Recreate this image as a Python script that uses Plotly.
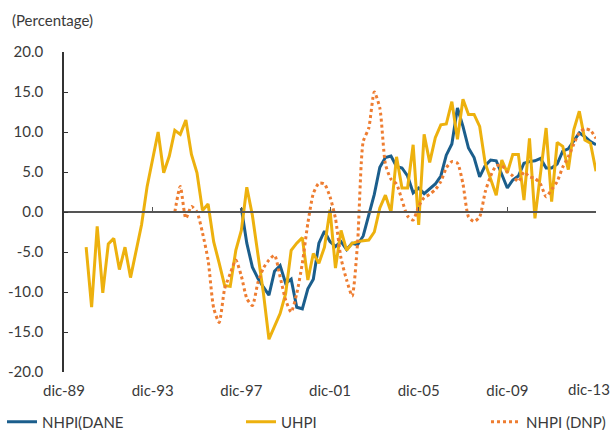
import plotly.graph_objects as go
import pandas as pd

# Quarterly periods, Dec-1989 .. Dec-2013 (97 quarters)
periods = [d for d in pd.date_range("1989-12-01", "2013-12-01", freq="MS") if d.month in (3, 6, 9, 12)]

tick_dates = ["1989-12-01", "1993-12-01", "1997-12-01", "2001-12-01",
              "2005-12-01", "2009-12-01", "2013-12-01"]
tick_labels = ["dic-89", "dic-93", "dic-97", "dic-01", "dic-05", "dic-09", "dic-13"]

N = None
# UHPI: quarters 4..96
uhpi = [N]*4 + [
    -4.4, -11.9, -1.8, -10.1, -4.0, -3.3, -7.2, -4.4, -8.2, -4.8,
    -1.6, 3.2, 6.6, 10.0, 4.9, 7.0, 10.2, 9.7, 11.5, 7.2,
    4.9, 0.2, 1.0, -3.7, -6.4, -9.2, -9.3, -4.8, -2.3, 3.1,
    -0.4, -5.2, -10.2, -15.9, -14.2, -12.7, -10.2, -4.8, -3.9, -3.2,
    -8.5, -5.2, -6.4, -4.4, 0.3, -7.0, -2.3, -4.8, -3.9, -3.7,
    -3.6, -3.5, -2.5, 0.5, 2.1, 0.0, 6.9, 3.0, 3.0, 8.4,
    -1.6, 9.7, 6.2, 9.3, 10.9, 11.0, 13.8, 9.1, 14.1, 12.2,
    12.2, 10.7, 6.1, 4.0, 2.1, 6.5, 4.9, 7.2, 7.2, 1.5,
    9.2, -0.8, 4.9, 10.5, 1.3, 8.7, 8.2, 5.3, 10.3, 12.6,
    9.0, 8.6, 5.1]

# NHPI (DANE): quarters 32..96
nhpi_dane = [N]*32 + [
    0.5, -3.9, -6.9, -8.3, -9.4, -10.4, -7.4, -6.7, -8.9, -8.4,
    -11.9, -12.1, -9.6, -8.4, -3.9, -2.4, -3.7, -4.3, -3.7, -4.7,
    -3.9, -4.1, -3.0, -0.5, 2.2, 5.6, 6.8, 7.0, 5.7, 5.5,
    4.5, 2.4, 3.0, 2.3, 2.9, 3.5, 4.5, 7.1, 8.5, 13.0,
    10.7, 8.0, 6.8, 4.4, 5.8, 6.5, 6.4, 4.8, 3.0, 4.0,
    4.5, 6.1, 6.3, 6.4, 6.7, 5.5, 5.5, 6.0, 7.6, 7.9,
    8.9, 9.9, 9.4, 8.8, 8.4]

# NHPI (DNP): quarters 20..96
nhpi_dnp = [N]*20 + [
    0.0, 3.2, -0.8, 0.7, 0.0, -2.6, -6.0, -12.0, -13.8, -9.6,
    -7.7, -6.0, -8.0, -10.8, -11.7, -8.8, -7.0, -6.0, -5.4, -8.1,
    -11.0, -12.5, -10.2, -6.4, -1.4, 2.3, 3.6, 3.5, 1.9, -0.8,
    -5.8, -8.5, -10.5, -3.8, 8.8, 10.5, 15.0, 13.0, 6.0, 4.1,
    3.5, 1.5, -0.5, -1.0, 0.7, 1.8, 2.2, 2.8, 3.8, 5.5,
    6.3, 6.1, 3.5, -0.6, -1.2, -0.6, 2.5, 4.5, 5.8, 5.8,
    5.0, 4.5, 3.8, 5.0, 4.4, 4.2, 3.5, 1.9, 2.8, 3.8,
    5.6, 6.9, 8.5, 9.9, 10.4, 10.2, 9.2]

y_ticks = [20, 15, 10, 5, 0, -5, -10, -15, -20]

BLUE = "#1B5E8C"
GOLD = "#EDB10E"
ORANGE = "#EE7D31"
FONT = "Lato"
TXT = "#3A3A3A"
FS = 15

L, R, T, B = 64, 18, 52, 58
PW = 614 - L - R
PH = 430 - T - B

def px_x(p):
    return (p - L) / PW

def px_y(p):
    return (430 - B - p) / PH

fig = go.Figure()
fig.add_trace(go.Scatter(x=periods, y=nhpi_dane, name="NHPI(DANE", mode="lines",
                         line=dict(color=BLUE, width=3), legend="legend"))
fig.add_trace(go.Scatter(x=periods, y=uhpi, name="UHPI", mode="lines",
                         line=dict(color=GOLD, width=3), legend="legend2"))
fig.add_trace(go.Scatter(x=periods, y=nhpi_dnp, name="NHPI (DNP)", mode="lines",
                         line=dict(color=ORANGE, width=3, dash="dot", shape="spline", smoothing=0.6),
                         legend="legend3"))

xr = ["1989-12-01", "2013-12-01"]
leg_common = dict(orientation="h", xanchor="left", yanchor="middle", y=px_y(422),
                  font=dict(family=FONT, size=FS, color=TXT), itemwidth=30,
                  bgcolor="rgba(0,0,0,0)", borderwidth=0)
fig.update_layout(
    width=614, height=430,
    margin=dict(l=L, r=R, t=T, b=B, autoexpand=False),
    paper_bgcolor="white", plot_bgcolor="white",
    font=dict(family=FONT, size=FS, color=TXT),
    showlegend=True,
    legend=dict(x=px_x(2), **leg_common),
    legend2=dict(x=px_x(241), **leg_common),
    legend3=dict(x=px_x(486), **leg_common),
    xaxis=dict(type="date", range=xr, tickvals=tick_dates,
               ticktext=tick_labels[:-1] + [""],
               showgrid=False, zeroline=False, showline=False, ticks="",
               ticklabelstandoff=8,
               tickfont=dict(family=FONT, size=FS, color=TXT)),
    xaxis2=dict(type="date", range=xr, overlaying="x", anchor="free", position=0.5,
                side="bottom", tickvals=tick_dates, showticklabels=False,
                showgrid=False, zeroline=False, showline=True, linecolor="#555555",
                linewidth=1.5, ticks="inside", ticklen=4, tickcolor="#555555"),
    yaxis=dict(range=[-20, 20], tickvals=y_ticks,
               ticktext=[f"{v:.1f}" for v in y_ticks],
               showgrid=False, zeroline=False, showline=True, linecolor="#333333",
               linewidth=1.5, ticks="inside", ticklen=4, tickcolor="#333333",
               ticklabelstandoff=16,
               tickfont=dict(family=FONT, size=FS, color=TXT)),
    annotations=[
        dict(text="(Percentage)", xref="paper", yref="paper",
             x=px_x(10), y=px_y(20), xanchor="left", yanchor="middle",
             showarrow=False, font=dict(family=FONT, size=FS, color=TXT)),
        dict(text=tick_labels[-1], xref="paper", yref="paper",
             x=1, xshift=16, y=px_y(389), xanchor="right", yanchor="middle",
             showarrow=False, font=dict(family=FONT, size=FS, color=TXT)),
    ],
)
# anchor trace so overlay axis renders
fig.add_trace(go.Scatter(x=xr, y=[0, 0], xaxis="x2", mode="lines",
                         line=dict(width=0), hoverinfo="skip", showlegend=False))

fig.write_html("out.html", config={"displayModeBar": False},
               post_script="document.body.style.margin='0';document.body.style.overflow='hidden';")
